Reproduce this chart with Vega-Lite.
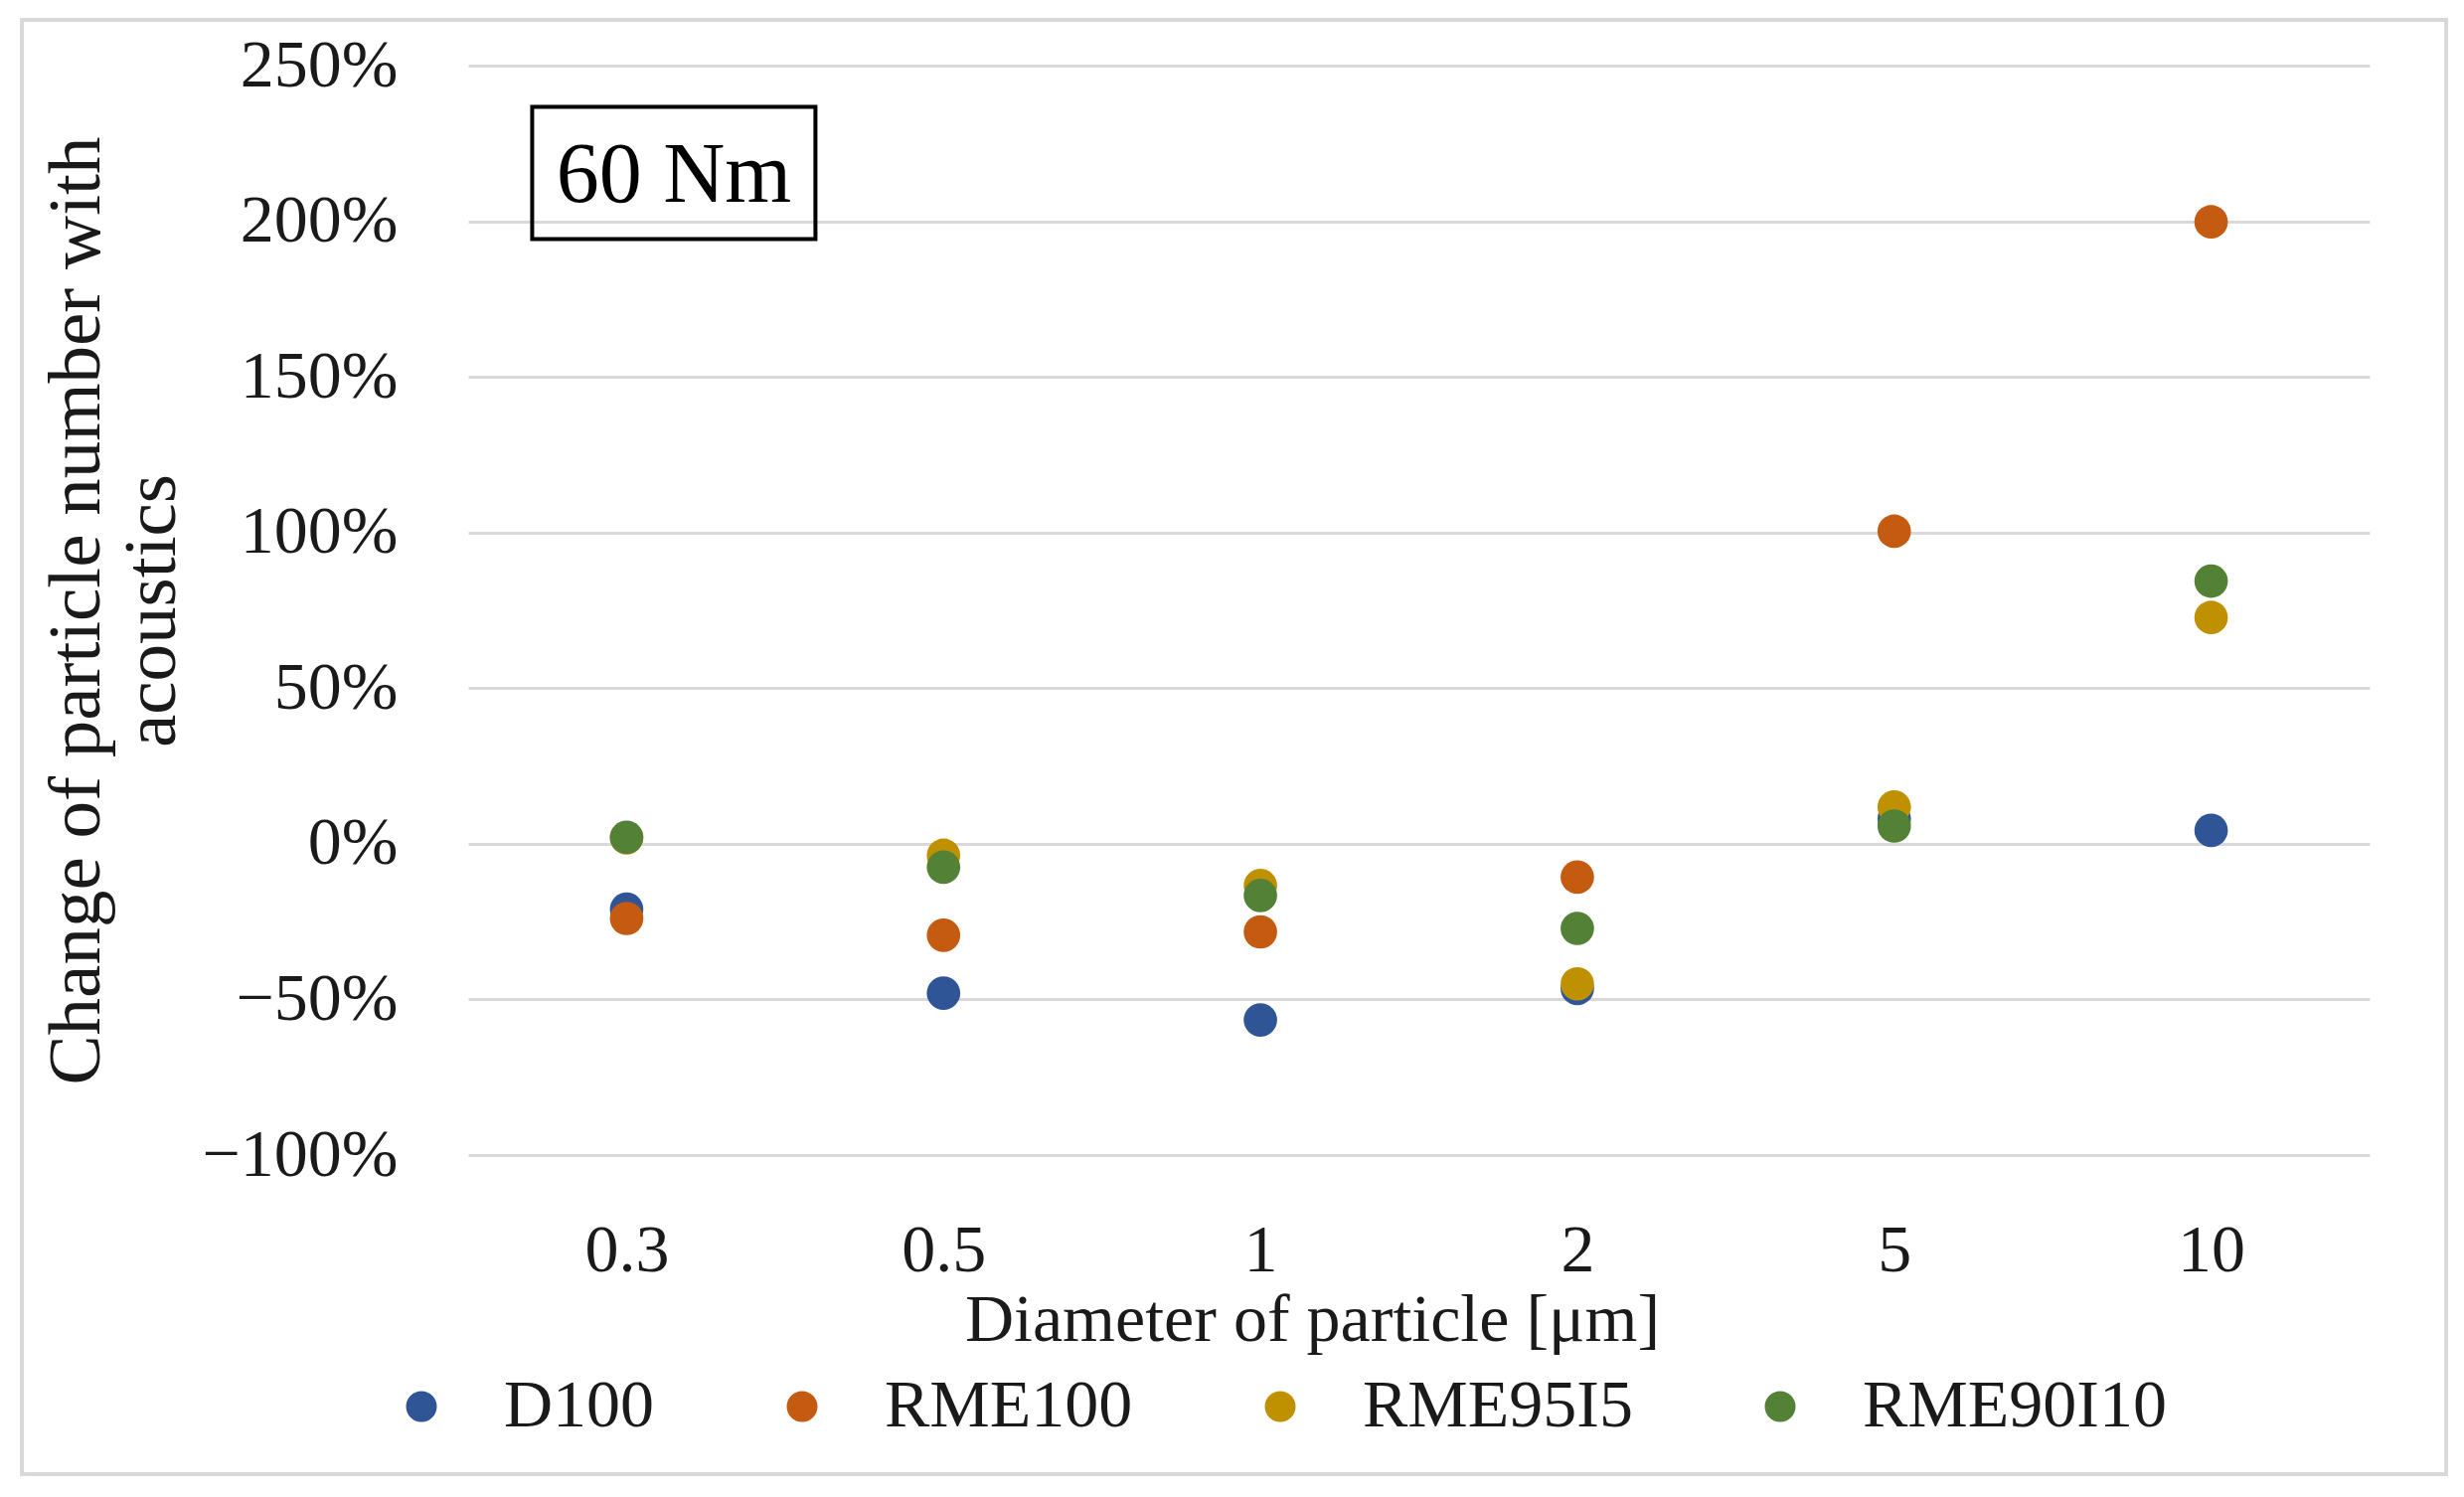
{
  "$schema": "https://vega.github.io/schema/vega-lite/v6.json",
  "autosize": {"type": "none"},
  "padding": {"left": 471, "top": 66, "right": 95, "bottom": 344},
  "width": 1913,
  "height": 1096,
  "background": "white",
  "config": {
    "view": {"stroke": null},
    "font": "Liberation Serif",
    "axis": {"labelFont": "Liberation Serif", "titleFont": "Liberation Serif", "labelColor": "#1a1a1a", "titleColor": "#1a1a1a", "titleFontWeight": "normal"},
    "legend": {"labelFont": "Liberation Serif"}
  },
  "layer": [
    {
      "data": {"values": [{"frame": "outer"}]},
      "mark": {"type": "point", "shape": "M-1,-0.5998H1V0.5998H-1Z", "filled": false, "stroke": "#d9d9d9", "strokeWidth": 4, "size": 5948721, "xOffset": -26.5, "opacity": 1},
      "encoding": {
        "x": {"datum": "1", "type": "nominal"},
        "y": {"datum": 0.311, "type": "quantitative"}
      }
    },
    {
      "data": {"values": [
        {"d": "0.3", "series": "D100", "v": -0.21},
        {"d": "0.5", "series": "D100", "v": -0.48},
        {"d": "1", "series": "D100", "v": -0.566},
        {"d": "2", "series": "D100", "v": -0.465},
        {"d": "5", "series": "D100", "v": 0.08},
        {"d": "10", "series": "D100", "v": 0.043},
        {"d": "0.3", "series": "RME100", "v": -0.24},
        {"d": "0.5", "series": "RME100", "v": -0.294},
        {"d": "1", "series": "RME100", "v": -0.283},
        {"d": "2", "series": "RME100", "v": -0.107},
        {"d": "5", "series": "RME100", "v": 1.004},
        {"d": "10", "series": "RME100", "v": 1.998},
        {"d": "0.3", "series": "RME95I5", "v": 0.019},
        {"d": "0.5", "series": "RME95I5", "v": -0.037},
        {"d": "1", "series": "RME95I5", "v": -0.134},
        {"d": "2", "series": "RME95I5", "v": -0.45},
        {"d": "5", "series": "RME95I5", "v": 0.118},
        {"d": "10", "series": "RME95I5", "v": 0.727},
        {"d": "0.3", "series": "RME90I10", "v": 0.021},
        {"d": "0.5", "series": "RME90I10", "v": -0.075},
        {"d": "1", "series": "RME90I10", "v": -0.166},
        {"d": "2", "series": "RME90I10", "v": -0.272},
        {"d": "5", "series": "RME90I10", "v": 0.057},
        {"d": "10", "series": "RME90I10", "v": 0.844}
      ]},
      "mark": {"type": "circle", "size": 1134, "opacity": 1},
      "encoding": {
        "x": {
          "field": "d", "type": "nominal",
          "scale": {"type": "point", "domain": ["0.3", "0.5", "1", "2", "5", "10"], "padding": 0.5},
          "axis": {
            "title": "Diameter of particle [μm]",
            "labelAngle": 0, "labelAlign": "center", "labelBaseline": "top", "labelFontSize": 68, "labelPadding": 62, "labelLimit": 0,
            "domain": false, "ticks": false, "grid": false,
            "titleFontSize": 68, "titleX": 849, "titleY": 186, "titleAlign": "center", "titleBaseline": "alphabetic", "titleAnchor": null, "titleLimit": 0
          }
        },
        "y": {
          "field": "v", "type": "quantitative",
          "scale": {"domain": [-1, 2.5], "nice": false, "zero": false},
          "axis": {
            "title": ["Change of particle number with", "acoustics"],
            "values": [-1, -0.5, 0, 0.5, 1, 1.5, 2, 2.5],
            "format": ".0%",
            "labelFontSize": 68, "labelPadding": 71, "labelLimit": 0,
            "domain": false, "ticks": false,
            "grid": true, "gridColor": "#d9d9d9", "gridWidth": 3,
            "titleFontSize": 75, "titleLineHeight": 76, "titleLimit": 0,
            "titleAngle": -90, "titleX": -372, "titleY": 548, "titleAlign": "center", "titleBaseline": "alphabetic", "titleAnchor": null
          }
        },
        "color": {
          "field": "series", "type": "nominal",
          "scale": {"domain": ["D100", "RME100", "RME95I5", "RME90I10"], "range": ["#2F5597", "#C55A11", "#BF9000", "#538135"]},
          "legend": {
            "title": null, "orient": "none", "legendX": -81, "legendY": 1315,
            "direction": "horizontal", "columns": 4,
            "labelFontSize": 68, "labelColor": "#1a1a1a", "labelOffset": 49, "columnPadding": 114, "labelLimit": 0,
            "symbolType": "circle", "symbolSize": 960, "symbolStrokeWidth": 0, "symbolOpacity": 1,
            "padding": 0
          }
        }
      }
    },
    {
      "data": {"values": [{"label": "60 Nm"}]},
      "layer": [
        {
          "mark": {"type": "point", "shape": "M-1,-0.4667H1V0.4667H-1Z", "filled": false, "stroke": "#000000", "strokeWidth": 4, "size": 81225, "xOffset": 47.5, "opacity": 1},
          "encoding": {
            "x": {"datum": "0.3", "type": "nominal"},
            "y": {"datum": 2.155, "type": "quantitative"}
          }
        },
        {
          "mark": {"type": "text", "fontSize": 86, "font": "Liberation Serif", "color": "#000000", "align": "center", "baseline": "middle", "xOffset": 47.5, "dy": 3},
          "encoding": {
            "x": {"datum": "0.3", "type": "nominal"},
            "y": {"datum": 2.155, "type": "quantitative"},
            "text": {"field": "label"}
          }
        }
      ]
    }
  ]
}
